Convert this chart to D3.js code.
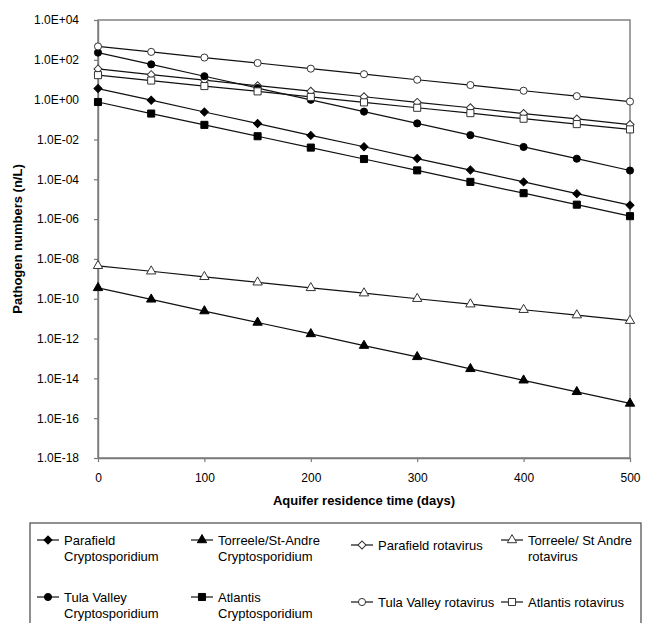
<!DOCTYPE html>
<html>
<head>
<meta charset="utf-8">
<script src="https://cdn.jsdelivr.net/npm/d3@7"></script>
<style>
  body { margin: 0; background: #fff; }
  text { font-family: "Liberation Sans", Arial, sans-serif; }
</style>
</head>
<body>
<div id="chart"></div>
<script>
// residence time (days), a marker every 50 days
var days = [0, 50, 100, 150, 200, 250, 300, 350, 400, 450, 500];

// pathogen numbers (n/L)
var parafieldCrypto = [3.6, 0.94, 0.24, 0.063, 0.016, 4.3e-3, 1.1e-3, 2.9e-4, 7.4e-5, 1.9e-5, 5.0e-6];
var torreeleCrypto  = [3.5e-10, 9.3e-11, 2.4e-11, 6.4e-12, 1.7e-12, 4.4e-13, 1.2e-13, 3.0e-14, 8.0e-15, 2.1e-15, 5.5e-16];
var parafieldRota   = [35, 18, 9.6, 5.0, 2.65, 1.4, 0.73, 0.39, 0.2, 0.107, 0.056];
var torreeleRota    = [4.5e-9, 2.4e-9, 1.26e-9, 6.7e-10, 3.5e-10, 1.9e-10, 1.0e-10, 5.3e-11, 2.8e-11, 1.5e-11, 7.9e-12];
var tulaCrypto      = [230, 59, 15, 3.8, 0.98, 0.25, 0.064, 0.0164, 4.2e-3, 1.08e-3, 2.75e-4];
var atlantisCrypto  = [0.76, 0.2, 0.054, 0.0145, 3.9e-3, 1.04e-3, 2.8e-4, 7.4e-5, 2.0e-5, 5.3e-6, 1.4e-6];
var tulaRota        = [470, 250, 130, 69, 36, 19, 10, 5.4, 2.8, 1.5, 0.8];
var atlantisRota    = [17, 9.1, 4.8, 2.6, 1.37, 0.73, 0.39, 0.21, 0.11, 0.059, 0.032];

var yTicks = [1e4, 1e2, 1e0, 1e-2, 1e-4, 1e-6, 1e-8, 1e-10, 1e-12, 1e-14, 1e-16, 1e-18];
var xTicks = [0, 100, 200, 300, 400, 500];

// legend order, two rows of four
var series = [
  {name: ["Parafield", "Cryptosporidium"], values: parafieldCrypto, shape: "diamond", filled: true},
  {name: ["Torreele/St-Andre", "Cryptosporidium"], values: torreeleCrypto, shape: "triangle", filled: true},
  {name: ["Parafield rotavirus"], values: parafieldRota, shape: "diamond", filled: false},
  {name: ["Torreele/ St Andre", "rotavirus"], values: torreeleRota, shape: "triangle", filled: false},
  {name: ["Tula Valley", "Cryptosporidium"], values: tulaCrypto, shape: "circle", filled: true},
  {name: ["Atlantis", "Cryptosporidium"], values: atlantisCrypto, shape: "square", filled: true},
  {name: ["Tula Valley rotavirus"], values: tulaRota, shape: "circle", filled: false},
  {name: ["Atlantis rotavirus"], values: atlantisRota, shape: "square", filled: false}
];

var width = 649, height = 623;
var plotLeft = 98, plotRight = 630, plotTop = 20, plotBottom = 458;
var frameColor = "#7a7a7a";

var svg = d3.select("#chart").append("svg")
    .attr("width", width)
    .attr("height", height);

var x = d3.scaleLinear().domain([0, 500]).range([plotLeft, plotRight]);
var y = d3.scaleLog().domain([1e-18, 1e4]).range([plotBottom, plotTop]);

function sci(d) {
  var e = Math.round(Math.log10(d));
  var s = e < 0 ? "-" : "+";
  var a = Math.abs(e);
  return "1.0E" + s + (a < 10 ? "0" + a : a);
}

function symbolPath(shape) {
  if (shape == "circle") return d3.symbol(d3.symbolCircle, 40)();
  if (shape == "square") return d3.symbol(d3.symbolSquare, 50)();
  if (shape == "triangle") return d3.symbol(d3.symbolTriangle, 38)();
  return d3.symbol(d3.symbolSquare, 32)(); // rotated later -> diamond
}

// frame
svg.append("rect")
    .attr("x", plotLeft).attr("y", plotTop)
    .attr("width", plotRight - plotLeft).attr("height", plotBottom - plotTop)
    .attr("fill", "none")
    .attr("stroke", frameColor)
    .attr("stroke-width", 1.4);

// axes
var yAxis = svg.append("g")
    .attr("transform", "translate(" + plotLeft + ",0)")
    .call(d3.axisLeft(y).tickValues(yTicks).tickFormat(sci).tickSize(4).tickSizeOuter(0).tickPadding(15));

var xAxis = svg.append("g")
    .attr("transform", "translate(0," + plotBottom + ")")
    .call(d3.axisBottom(x).tickValues(xTicks).tickSize(4).tickSizeOuter(0).tickPadding(11));

[yAxis, xAxis].forEach(function(g) {
  g.select(".domain").attr("stroke", frameColor).attr("stroke-width", 1.4);
  g.selectAll(".tick line").attr("stroke", frameColor).attr("stroke-width", 1.2);
  g.selectAll(".tick text")
      .attr("fill", "#000")
      .style("font-size", "12px")
      .style("font-family", '"Liberation Sans", Arial, sans-serif');
});

// axis titles
svg.append("text")
    .attr("x", (plotLeft + plotRight) / 2)
    .attr("y", 505)
    .attr("text-anchor", "middle")
    .style("font-size", "13px")
    .style("font-weight", "bold")
    .text("Aquifer residence time (days)");

svg.append("text")
    .attr("transform", "translate(22," + ((plotTop + plotBottom) / 2) + ") rotate(-90)")
    .attr("text-anchor", "middle")
    .style("font-size", "13px")
    .style("font-weight", "bold")
    .text("Pathogen numbers (n/L)");

// lines and markers
var line = d3.line()
    .x(function(d, i) { return x(days[i]); })
    .y(function(d) { return y(d); });

series.forEach(function(s) {
  svg.append("path")
      .datum(s.values)
      .attr("d", line)
      .attr("fill", "none")
      .attr("stroke", "#111")
      .attr("stroke-width", 1.2);
});

series.forEach(function(s) {
  svg.selectAll(null)
      .data(s.values)
      .enter()
      .append("path")
      .attr("d", symbolPath(s.shape))
      .attr("transform", function(d, i) {
        var t = "translate(" + x(days[i]) + "," + y(d) + ")";
        return s.shape == "diamond" ? t + " rotate(45)" : t;
      })
      .attr("fill", s.filled ? "#000" : "#fff")
      .attr("stroke", s.filled ? "#000" : "#333")
      .attr("stroke-width", 1);
});

// legend (its lower edge runs off the picture, as in the original)
var legend = svg.append("g");
legend.append("rect")
    .attr("x", 30).attr("y", 523)
    .attr("width", 611).attr("height", 140)
    .attr("fill", "none")
    .attr("stroke", "#555")
    .attr("stroke-width", 1.3);

var colX = [37, 191, 351, 501];
var rowY = [540, 597];

series.forEach(function(s, i) {
  var cx = colX[i % 4];
  var cy = rowY[Math.floor(i / 4)] + (s.name.length == 1 ? 5 : 0);
  var g = legend.append("g").attr("transform", "translate(" + cx + "," + cy + ")");
  g.append("line")
      .attr("x1", 0).attr("x2", 22)
      .attr("y1", 0).attr("y2", 0)
      .attr("stroke", "#111").attr("stroke-width", 1.2);
  g.append("path")
      .attr("d", symbolPath(s.shape))
      .attr("transform", "translate(11,0)" + (s.shape == "diamond" ? " rotate(45)" : ""))
      .attr("fill", s.filled ? "#000" : "#fff")
      .attr("stroke", s.filled ? "#000" : "#333")
      .attr("stroke-width", 1);
  s.name.forEach(function(t, j) {
    g.append("text")
        .attr("x", 27)
        .attr("y", j * 16.5 + 4.5)
        .style("font-size", "13px")
        .text(t);
  });
});
</script>
</body>
</html>
